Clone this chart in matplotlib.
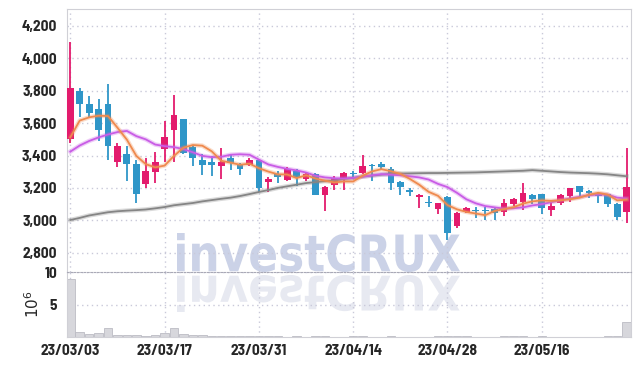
import numpy as np
import matplotlib.pyplot as plt
from matplotlib.textpath import TextPath
from matplotlib.patches import PathPatch
from matplotlib.font_manager import FontProperties
from matplotlib.transforms import Affine2D
import matplotlib.patheffects as pe

# tick labels (every 10 trading days)
date_labels = ["23/03/03", "23/03/17", "23/03/31", "23/04/14", "23/04/28", "23/05/16"]
date_pos = [0, 10, 20, 30, 40, 50]

# daily OHLC (60 trading days)
opens = [3500, 3800, 3720, 3690, 3720, 3360, 3410, 3350, 3225, 3300,
         3440, 3560, 3625, 3450, 3375, 3360, 3335, 3385, 3350, 3340,
         3375, 3235, 3285, 3250, 3305, 3255, 3285, 3155, 3220, 3260,
         3295, 3290, 3340, 3350, 3320, 3235, 3190, 3147, 3115, 3070,
         3145, 2965, 3050, 3065, 3062, 3070, 3050, 3100, 3115, 3157,
         3160, 3065, 3105, 3152, 3210, 3183, 3168, 3160, 3100, 3050]
highs = [4100, 3820, 3770, 3750, 3840, 3480, 3460, 3370, 3385, 3425,
         3615, 3775, 3628, 3465, 3410, 3400, 3445, 3410, 3355, 3385,
         3380, 3265, 3305, 3330, 3315, 3295, 3295, 3210, 3275, 3300,
         3305, 3405, 3345, 3360, 3330, 3240, 3200, 3160, 3150, 3110,
         3150, 3050, 3080, 3080, 3080, 3075, 3130, 3140, 3230, 3165,
         3165, 3115, 3160, 3200, 3212, 3185, 3172, 3165, 3105, 3445]
lows = [3480, 3640, 3630, 3490, 3370, 3330, 3245, 3110, 3200, 3230,
        3360, 3360, 3410, 3335, 3280, 3275, 3255, 3310, 3280, 3335,
        3175, 3175, 3230, 3240, 3210, 3240, 3155, 3060, 3190, 3185,
        3260, 3285, 3240, 3320, 3185, 3155, 3150, 3075, 3085, 3040,
        2880, 2955, 3045, 3015, 3000, 3000, 3025, 3090, 3065, 3100,
        3040, 3025, 3095, 3115, 3145, 3140, 3105, 3080, 3005, 2985]
closes = [3820, 3720, 3660, 3560, 3460, 3460, 3350, 3160, 3305, 3360,
          3515, 3650, 3415, 3385, 3340, 3340, 3360, 3355, 3320, 3375,
          3200, 3255, 3270, 3315, 3265, 3285, 3157, 3205, 3260, 3295,
          3285, 3335, 3335, 3330, 3230, 3205, 3178, 3157, 3110, 3105,
          2920, 3048, 3075, 3060, 3057, 3048, 3105, 3133, 3170, 3130,
          3075, 3090, 3157, 3198, 3178, 3167, 3150, 3100, 3020, 3205]

# moving average lines
ma_short = [3513, 3616, 3636, 3646, 3644, 3572, 3498, 3398, 3347, 3327,
            3338, 3398, 3449, 3465, 3461, 3426, 3368, 3356, 3343, 3350,
            3322, 3301, 3284, 3283, 3261, 3278, 3258, 3245, 3234, 3240,
            3240, 3276, 3302, 3316, 3303, 3287, 3256, 3220, 3176, 3151,
            3094, 3068, 3052, 3042, 3032, 3058, 3069, 3081, 3103, 3117,
            3123, 3120, 3124, 3130, 3140, 3158, 3170, 3159, 3123, 3128]
ma_mid = [3424, 3462, 3490, 3512, 3530, 3545, 3552, 3520, 3500, 3468,
          3458, 3452, 3440, 3420, 3398, 3390, 3392, 3405, 3408, 3405,
          3375, 3345, 3330, 3318, 3308, 3295, 3275, 3265, 3260, 3258,
          3262, 3270, 3278, 3285, 3282, 3278, 3272, 3265, 3252, 3225,
          3205, 3170, 3130, 3105, 3088, 3080, 3072, 3075, 3080, 3092,
          3100, 3112, 3125, 3135, 3145, 3155, 3160, 3158, 3140, 3135]
ma_long = [3002, 3015, 3030, 3040, 3050, 3056, 3060, 3063, 3067, 3074,
           3082, 3093, 3100, 3107, 3117, 3125, 3133, 3140, 3150, 3162,
           3175, 3187, 3200, 3210, 3220, 3230, 3236, 3242, 3245, 3255,
           3262, 3270, 3276, 3282, 3287, 3289, 3290, 3291, 3292, 3292,
           3293, 3294, 3295, 3296, 3298, 3300, 3302, 3304, 3306, 3310,
           3306, 3302, 3298, 3295, 3293, 3291, 3288, 3284, 3278, 3272]

# volume in millions
volumes = [9.0, 0.72, 0.46, 0.57, 1.34, 0.31, 0.30, 0.28, 0.15, 0.31,
           0.57, 1.34, 0.46, 0.31, 0.31, 0.20, 0.12, 0.10, 0.08, 0.10,
           0.15, 0.10, 0.08, 0.06, 0.08, 0.06, 0.08, 0.10, 0.06, 0.06,
           0.08, 0.10, 0.06, 0.05, 0.08, 0.06, 0.05, 0.06, 0.05, 0.08,
           0.15, 0.15, 0.08, 0.05, 0.05, 0.06, 0.08, 0.10, 0.15, 0.06,
           0.10, 0.06, 0.05, 0.06, 0.05, 0.05, 0.06, 0.08, 0.10, 2.26]

price_ticks = [2800, 3000, 3200, 3400, 3600, 3800, 4000, 4200]

UP = "#e31b6d"
DOWN = "#2f96c8"
GRID = "#c9c9d9"
SPINE = "#d0d0d6"
TXT = "#262626"

W, H = 639, 366
fig = plt.figure(figsize=(W / 100, H / 100), dpi=100)

tick_font = FontProperties(family=["Barlow Semi Condensed", "DejaVu Sans"],
                           weight=700, size=11)


def add_mark(box, color, flip=False):
    # watermark text drawn as a path, optionally mirrored
    tp = TextPath((0, 0), "investCRUX", size=50,
                  prop=FontProperties(family=["DejaVu Sans"], weight="bold"))
    ext = tp.get_extents()
    x0, ytop, x1, ybot = box
    sx = (x1 - x0) / ext.width / W
    sy = (ybot - ytop) / ext.height / H
    tr = Affine2D().translate(-ext.x0, -ext.y0)
    if flip:
        tr = tr.scale(sx, -sy).translate(x0 / W, 1 - ytop / H)
    else:
        tr = tr.scale(sx, sy).translate(x0 / W, 1 - ybot / H)
    patch = PathPatch(tr.transform_path(tp), facecolor=color, edgecolor="none",
                      transform=fig.transFigure, zorder=-1)
    fig.add_artist(patch)


add_mark((177, 233, 460, 272), "#cbd2e7")
add_mark((177, 275, 460, 312), "#e7e9f1", flip=True)

ax = fig.add_axes([67 / W, 1 - 272 / H, (631 - 67) / W, (272 - 9.3) / H])
axv = fig.add_axes([67 / W, 1 - 337 / H, (631 - 67) / W, (337 - 272) / H], sharex=ax)
for a in (ax, axv):
    a.set_facecolor("none")

x = np.arange(len(closes))
o = np.array(opens)
c = np.array(closes)
colors = [UP if cc >= oo else DOWN for oo, cc in zip(o, c)]

ax.vlines(x, lows, highs, colors=colors, linewidth=1.3, zorder=3)
body = np.where(np.abs(c - o) < 4, 4, c - o)
ax.bar(x, body, bottom=o, width=0.72, color=colors, zorder=4)

halo = lambda col: [pe.Stroke(linewidth=3.2, foreground=col, alpha=0.3), pe.Normal()]
ax.plot(x, ma_long, color="#858585", lw=1.3, zorder=5, path_effects=halo("#858585"))
ax.plot(x, ma_mid, color="#c95ce6", lw=1.3, zorder=5, path_effects=halo("#c95ce6"))
ax.plot(x, ma_short, color="#ef8a4e", lw=1.3, zorder=6, path_effects=halo("#ef8a4e"))

ax.set_ylim(2681, 4303)
ax.set_xlim(-0.35, 59.46)
ax.set_yticks(price_ticks)
ax.set_yticklabels([f"{v:,}" for v in price_ticks])
ax.set_xticks(date_pos)
ax.tick_params(axis="x", labelbottom=False, length=0)
ax.tick_params(axis="y", length=0, pad=7, colors=TXT)
for lab in ax.get_yticklabels():
    lab.set_fontproperties(tick_font)
ax.grid(True, linestyle=(0, (1, 2.5)), color=GRID, linewidth=1)
for s in ["top", "right", "left"]:
    ax.spines[s].set_color(SPINE)
ax.spines["bottom"].set_visible(False)

axv.bar(x, volumes, width=0.9, color="#d7d7dc", edgecolor="#bcbcc4", linewidth=0.6, zorder=2)
axv.set_ylim(0, 10)
axv.set_yticks([5, 10])
axv.set_yticklabels(["5", "10"])
axv.set_xticks(date_pos)
axv.set_xticklabels(date_labels)
axv.tick_params(length=0, colors=TXT)
axv.tick_params(axis="y", pad=7)
axv.tick_params(axis="x", pad=5)
for lab in axv.get_yticklabels() + axv.get_xticklabels():
    lab.set_fontproperties(tick_font)
axv.grid(True, linestyle=(0, (1, 2.5)), color=GRID, linewidth=1)
axv.spines["top"].set_color("#a9a9b6")
axv.spines["top"].set_linestyle((0, (1.5, 1.5)))
for s in ["right", "left", "bottom"]:
    axv.spines[s].set_color(SPINE)
axv.set_ylabel(r"$10^6$", fontsize=11, color=TXT, labelpad=2)

fig.savefig("out.png", dpi=100)
